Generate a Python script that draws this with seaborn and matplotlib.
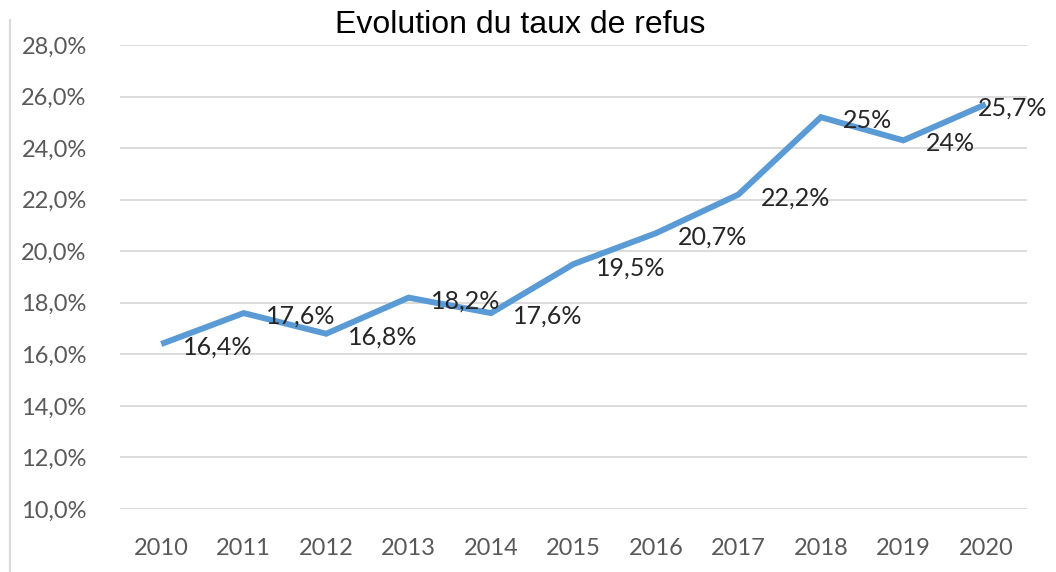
import seaborn as sns
import matplotlib.pyplot as plt
import pandas as pd
from matplotlib.lines import Line2D

# data
years = [2010, 2011, 2012, 2013, 2014, 2015, 2016, 2017, 2018, 2019, 2020]
refusal_rate = [16.4, 17.6, 16.8, 18.2, 17.6, 19.5, 20.7, 22.2, 25.2, 24.3, 25.7]
point_labels = ["16,4%", "17,6%", "16,8%", "18,2%", "17,6%", "19,5%",
                "20,7%", "22,2%", "25%", "24%", "25,7%"]
y_ticks = [10, 12, 14, 16, 18, 20, 22, 24, 26, 28]

df = pd.DataFrame({"year": years, "rate": refusal_rate})

sns.set_style("white")
plt.rcParams["font.family"] = ["Lato", "DejaVu Sans"]

fig = plt.figure(figsize=(10.56, 5.72), dpi=100)
ax = fig.add_axes([120 / 1056, 1 - 509 / 572, 907 / 1056, 464 / 572])

sns.lineplot(data=df, x="year", y="rate", ax=ax, color="#5B9BD5",
             linewidth=4.3, solid_joinstyle="miter", solid_capstyle="butt")

# data labels to the right of each point (last one pulled back so it fits)
for i, (yr, val, lab) in enumerate(zip(years, refusal_rate, point_labels)):
    dx = -6 if i == len(years) - 1 else 16
    ax.annotate(lab, (yr, val), xytext=(dx, -2.5), textcoords="offset points",
                ha="left", va="center", fontsize=18, color="#262626", zorder=5)

ax.set_xlim(2009.5, 2020.5)
ax.set_ylim(10, 28)
ax.set_xticks(years)
ax.set_xticklabels([str(y) for y in years])
ax.set_yticks(y_ticks)
ax.set_yticklabels([f"{v},0%" for v in y_ticks])
ax.tick_params(axis="x", length=0, pad=21, labelsize=17, labelcolor="#595959")
ax.tick_params(axis="y", length=0, pad=24, labelsize=17, labelcolor="#595959")
ax.set_xlabel("")
ax.set_ylabel("")

ax.grid(axis="y", color="#d9d9d9", linewidth=1.3)
ax.set_axisbelow(True)
for side in ["top", "right", "left", "bottom"]:
    ax.spines[side].set_visible(False)

fig.text(0.493, 1 - 25 / 572, "Evolution du taux de refus", ha="center", va="center",
         fontsize=23, family=["Liberation Sans", "DejaVu Sans"], color="black")

# thin border on the left edge of the chart image
fig.add_artist(Line2D([10 / 1056, 10 / 1056], [0, 1 - 20 / 572],
                      transform=fig.transFigure, color="#d9d9d9", linewidth=1.5))

fig.savefig("out.png", dpi=100)
